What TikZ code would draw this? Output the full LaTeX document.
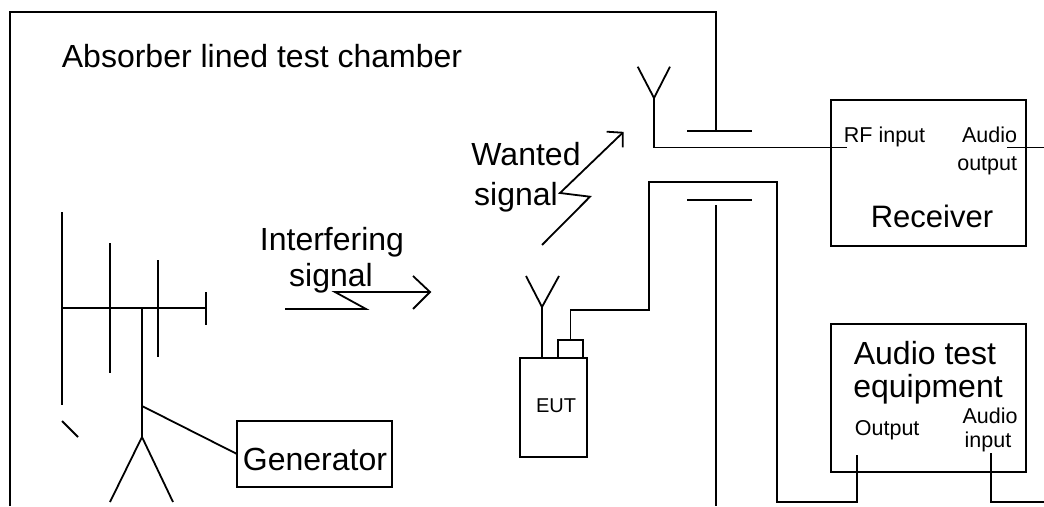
\documentclass[tikz,border=0pt]{standalone}
\usepackage{fontspec}
\setmainfont{Liberation Sans}
\begin{document}
\begin{tikzpicture}[x=1pt,y=-1pt, line width=1.8pt,
  box/.style={draw, rectangle, inner sep=0pt, outer sep=0pt},
  big/.style={font=\fontsize{32}{36}\selectfont, inner sep=0pt},
  small/.style={font=\fontsize{21.5}{24}\selectfont, inner sep=0pt},
  wire/.style={line join=miter}]
\useasboundingbox (0,0) rectangle (1044,506);

% chamber walls
\draw[wire] (10,506) -- (10,12) -- (716,12) -- (716,131);
\draw (687,131) -- (752,131);
\draw (687,200) -- (752,200);
\draw (716,205) -- (716,506);
\node[big, anchor=base west] (title) at (61,67) {Absorber lined test chamber};

% boxes
\node[box, minimum width=195pt, minimum height=146pt] (rx) at (928.5,173) {};
\node[box, minimum width=195pt, minimum height=148pt] (ate) at (928.5,398) {};
\node[box, minimum width=155pt, minimum height=66pt] (gen) at (314.5,454) {};
\node[box, minimum width=67pt, minimum height=99pt] (eut) at (553.5,407.5) {};
\node[box, minimum width=25pt, minimum height=18pt] (conn) at (570.5,349) {};

% box texts
\node[small, anchor=base west] (rfinlbl) at (843,142) {RF input};
\node[small, anchor=base east] (aoutlbl1) at (1018,142) {Audio};
\node[small, anchor=base east] (aoutlbl2) at (1018,170) {output};
\node[font=\fontsize{31}{36}\selectfont, inner sep=0pt, anchor=base] (rxlbl) at (932,227) {Receiver};
\node[big, anchor=base] (atelbl1) at (925,364) {Audio test};
\node[big, anchor=base] (atelbl2) at (928,397) {equipment};
\node[small, anchor=base west] (outlbl) at (854,435) {Output};
\node[small, anchor=base] (ainlbl1) at (990,423) {Audio};
\node[small, anchor=base] (ainlbl2) at (988,447) {input};
\node[big, anchor=base] (genlbl) at (315,470) {Generator};
\node[font=\fontsize{20}{24}\selectfont, inner sep=0pt, anchor=base] (eutlbl) at (556,412) {EUT};

% signal labels
\node[big, anchor=base] (intf1) at (332,250) {Interfering};
\node[big, anchor=base] (intf2) at (331,286) {signal};
\node[big, anchor=base] (want1) at (526,165) {Wanted};
\node[big, anchor=base] (want2) at (516,205) {signal};

% coordinates
\coordinate (rxant) at (654,98);
\coordinate (rfin) at (847,147.5);
\coordinate (aout) at (1007,147.5);
\coordinate (aoutend) at (1044,147.5);
\coordinate (out) at (857,455);
\coordinate (ain) at (991,453);
\coordinate (ainend) at (1044,502);
\coordinate (eutant) at (542,307);
\coordinate (mast) at (142,406);

% receiving antenna and cable to receiver
\draw (637.7,66.7) -- (rxant) -- (670,66.7);
\draw[wire] (rxant) -- (654,147.5) -- (rfin);
\draw (aout) -- (aoutend);

% EUT antenna
\draw (526,276) -- (eutant) -- (559,276);
\draw (eutant) -- (eut.north -| eutant);

% EUT cable to audio test equipment
\draw[wire] (conn.north) |- (649,310) |- (777,182) -- (777,502) -| (out);
\draw[wire] (ain) |- (ainend);

% log-periodic antenna
\draw (62,212) -- (62,405);
\draw (110,243) -- (110,373);
\draw (158,260) -- (158,357);
\draw (206,292) -- (206,325);
\draw (62,308) -- (206,308);
\draw (142,308) -- (142,437);
\draw (142,437) -- (110,502);
\draw (142,437) -- (173,502);
\draw (62,421) -- (78,437);
\draw (mast) -- (gen.west);

% interfering signal arrow
\draw[wire] (285,309) -- (366,309) -- (335,292) -- (430,292);
\draw[wire] (413,276) -- (430,292) -- (413,309);

% wanted signal arrow
\draw[wire] (542,245) -- (590,196.7) -- (560,193) -- (622.7,132.7);
\draw[wire] (606.7,131.7) -- (622.7,132.7) -- (622.7,147.3);
\end{tikzpicture}
\end{document}
